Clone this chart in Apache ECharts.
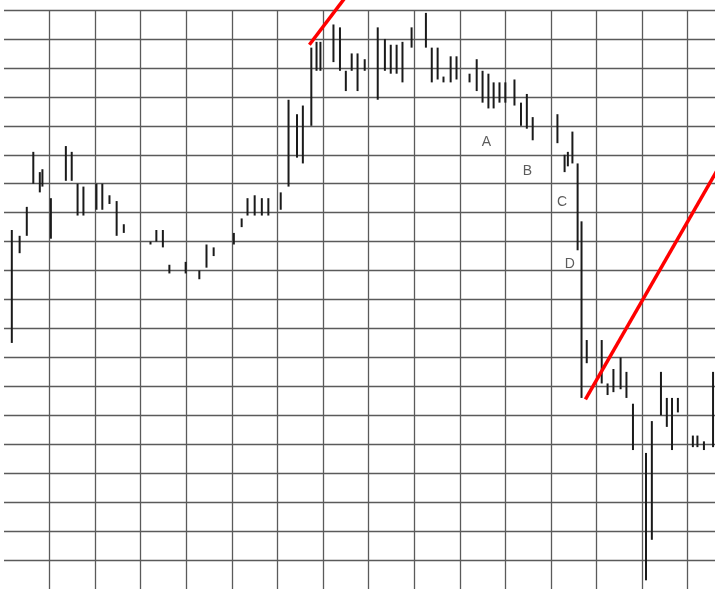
<!DOCTYPE html>
<html>
<head>
<meta charset="utf-8">
<script src="https://cdn.jsdelivr.net/npm/echarts@6/dist/echarts.min.js"></script>
<style>
html,body{margin:0;padding:0;background:#fff;}
#chart{width:715px;height:589px;}
</style>
</head>
<body>
<div id="chart"></div>
<script>
// Day positions (7 days per grid column)
const days = [1.2,2.4,3.5,4.5,5.5,5.9,7.2,9.5,10.4,11.3,12.2,14.2,15.1,16.2,17.3,18.4,
  22.5,23.4,24.4,25.4,27.9,30.0,31.1,32.2,35.3,36.5,37.4,38.5,39.6,40.6,42.5,
  43.7,45.0,45.9,47.2,48.0,48.6,50.6,51.6,52.5,53.4,54.3,55.4,57.4,58.5,59.4,60.3,61.2,62.6,
  64.8,65.7,66.6,67.5,68.6,69.5,71.5,72.6,73.5,74.4,75.2,76.1,77.0,78.4,79.4,80.3,81.2,
  85.0,86.1,86.6,87.3,88.1,88.7,89.5,91.8,92.7,93.6,94.7,95.6,96.6,98.6,99.5,
  100.9,101.8,102.6,103.5,105.8,106.5,107.5,108.9];
// Bar highs (10 units per grid row)
const highs = [124,122,132,151,144,145,135,153,151,140,139,140,140,136,134,126,
  120,124,124,112,113,110,119,118,123,128,135,136,135,135,137,
  169,164,167,187,189,189,195,194,179,185,185,183,194,190,188,188,189,194,
  199,187,187,177,184,184,178,183,179,178,175,175,175,176,168,171,163,
  164,150,151,158,147,127,86,86,71,76,80,75,64,47,58,
  75,66,66,66,53,53,51,75];
// Bar lows
const lows = [85,116,122,140,137,139,121,141,141,129,129,131,131,133,122,123,
  119,120,118,109,109,107,111,115,119,125,129,129,129,129,131,
  139,149,147,160,179,179,182,179,172,179,172,179,169,179,178,178,175,187,
  187,175,176,175,175,176,175,172,168,166,166,168,168,167,160,159,155,
  154,144,146,147,117,66,78,71,67,68,69,66,48,3,17,
  60,56,48,61,49,49,48,49];
// Red trend lines
const trendA = [[46.9, 188], [52.3, 204]];
const trendB = [[89.3, 65.5], [109.9, 146.1]];
// Annotation letters
const labelNames = ['A','B','C','D'];
const labelPos = [[74.1,154.5],[80.4,144.5],[85.7,133.8],[86.9,112.1]];

const bars = days.map((d, i) => [d, highs[i], lows[i]]);
const chart = echarts.init(document.getElementById('chart'));
chart.setOption({
  backgroundColor: '#fff',
  animation: false,
  grid: {left: 4, top: 10, width: 711, height: 580},
  xAxis: {type: 'value', min: 0, max: 109.2, interval: 7,
    axisLine: {show: false}, axisTick: {show: false}, axisLabel: {show: false},
    splitLine: {show: true, showMinLine: false, showMaxLine: false, lineStyle: {color: '#5a5a5a', width: 1.3}}},
  yAxis: {type: 'value', min: 0, max: 200, interval: 10,
    axisLine: {show: false}, axisTick: {show: false}, axisLabel: {show: false},
    splitLine: {show: true, showMinLine: false, showMaxLine: true, lineStyle: {color: '#5a5a5a', width: 1.3}}},
  series: [
    {type: 'custom', data: bars, encode: {x: 0, y: [1, 2]}, clip: false,
      renderItem: function (params, api) {
        const p1 = api.coord([api.value(0), api.value(1)]);
        const p2 = api.coord([api.value(0), api.value(2)]);
        return {type: 'line', shape: {x1: p1[0], y1: p1[1], x2: p2[0], y2: p2[1]},
          style: {stroke: '#1a1a1a', lineWidth: 2}};
      }},
    {type: 'line', data: trendA, clip: false, symbol: 'none', lineStyle: {color: '#ff0000', width: 3.5}},
    {type: 'line', data: trendB, clip: false, symbol: 'none', lineStyle: {color: '#ff0000', width: 3.5}},
    {type: 'scatter', data: labelPos.map((p, i) => ({name: labelNames[i], value: p})),
      symbolSize: 0,
      label: {show: true, position: 'inside', formatter: '{b}', color: '#333',
        fontFamily: 'Liberation Sans, Arial, sans-serif', fontSize: 14}}
  ]
});
</script>
</body>
</html>
